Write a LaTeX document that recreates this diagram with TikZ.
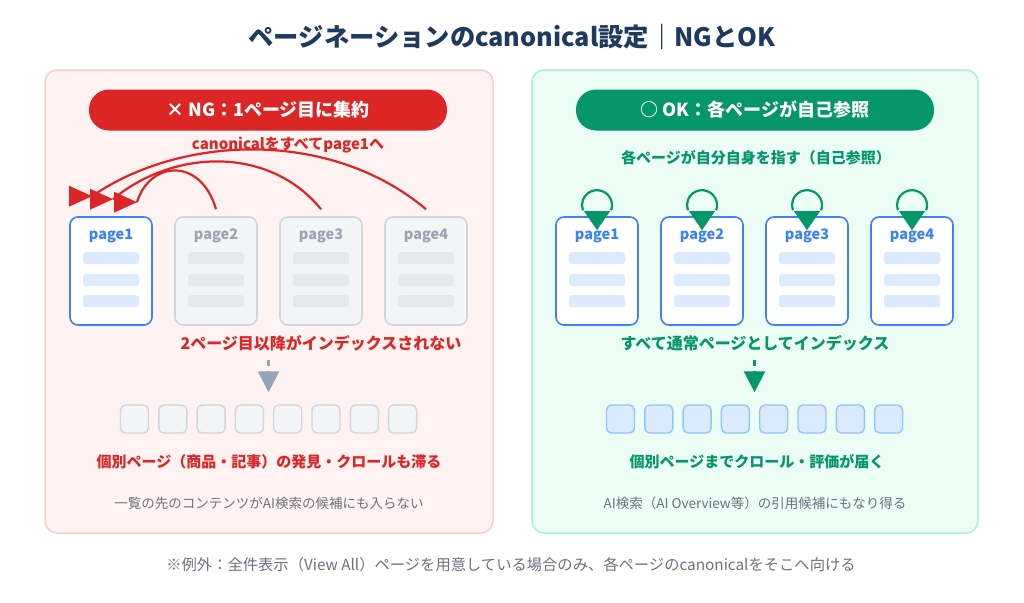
\documentclass[tikz,border=0pt]{standalone}
\usepackage{fontspec}
\setmainfont{Noto Sans CJK JP}
\usetikzlibrary{arrows.meta, calc}
\definecolor{ttlC}{HTML}{1E3A5F}
\definecolor{ngR}{HTML}{DC2626}
\definecolor{okG}{HTML}{059669}
\definecolor{noteC}{HTML}{6B7280}
\definecolor{ngBg}{HTML}{FEF2F2}
\definecolor{ngLn}{HTML}{FECACA}
\definecolor{okBg}{HTML}{ECFDF5}
\definecolor{okLn}{HTML}{A7F3D0}
\definecolor{pgB}{HTML}{3B82F6}
\definecolor{pgBar}{HTML}{DBEAFE}
\definecolor{grFill}{HTML}{F3F4F6}
\definecolor{grLn}{HTML}{D1D5DB}
\definecolor{grTxt}{HTML}{9CA3AF}
\definecolor{grBar}{HTML}{E5E7EB}
\definecolor{arrGr}{HTML}{94A3B8}
\definecolor{sqLn}{HTML}{93C5FD}
\newcommand{\fs}[1]{\fontsize{#1}{#1}\selectfont}
\tikzset{
  panel/.style={rounded corners=12pt, line width=1.5pt},
  pill/.style={rounded corners=20pt, minimum width=358pt, minimum height=41pt, inner sep=0pt,
    text=white, font=\bfseries\fs{18}},
  pagecard/.style={draw, rounded corners=8pt, line width=1.6pt, minimum width=82pt, minimum height=108pt},
  pagelbl/.style={inner sep=0pt, font=\bfseries\fs{14.5}},
  sqbox/.style={draw, rounded corners=5pt, line width=1.4pt, minimum size=28pt, inner sep=0pt},
  msg/.style={inner sep=0pt, font=\bfseries\fs{#1}},
  note/.style={inner sep=0pt, text=noteC, font=\fs{#1}},
  downarr/.style={line width=2.5pt, dash pattern=on 6pt off 5pt, -{Triangle[length=21pt, width=21pt]}}
}
\begin{document}
\begin{tikzpicture}[x=1pt, y=-1pt]
\useasboundingbox[fill=white] (0,0) rectangle (1024,602);
\node[msg=25.3, text=ttlC] (title) at (512,37) {ページネーションのcanonical設定｜NGとOK};
% two panels
\draw[panel, fill=ngBg, draw=ngLn] (45,70) rectangle (493,533);
\draw[panel, fill=okBg, draw=okLn] (532,70) rectangle (978,533);
\node[pill, fill=ngR] (nghd) at (268,110) {× NG：1ページ目に集約};
\node[pill, fill=okG] (okhd) at (755,110) {○ OK：各ページが自己参照};
% NG side: page cards, page1 only in blue
\foreach \i/\x/\fc/\lc/\tc/\bc in {1/111/white/pgB/pgB/pgBar, 2/216/grFill/grLn/grTxt/grBar,
    3/321/grFill/grLn/grTxt/grBar, 4/426/grFill/grLn/grTxt/grBar} {
  \node[pagecard, fill=\fc, draw=\lc] (l\i) at (\x,271) {};
  \node[pagelbl, text=\tc] at ($(l\i.north)+(0,20)$) {page\i};
  \foreach \b in {42,64,85}
    \fill[\bc, rounded corners=3pt] ($(l\i.north)+(-28,\b-6)$) rectangle ++(56,12);
}
% OK side: all cards in blue
\foreach \i/\x in {1/597, 2/702, 3/807, 4/912} {
  \node[pagecard, fill=white, draw=pgB] (r\i) at (\x,271) {};
  \node[pagelbl, text=pgB] at ($(r\i.north)+(0,20)$) {page\i};
  \foreach \b in {42,64,85}
    \fill[pgBar, rounded corners=3pt] ($(r\i.north)+(-28,\b-6)$) rectangle ++(56,12);
}
% canonical arrows to page1 (heads drawn pointing right)
\node[msg=15, text=ngR] (lcan) at (288,145) {canonicalをすべてpage1へ};
\coordinate (t2) at ($(l1.north)+(26,-14)$);
\coordinate (t3) at ($(l1.north)+(2,-17)$);
\coordinate (t4) at ($(l1.north)+(-19,-20)$);
\draw[ngR, line width=2.2pt] ([yshift=7pt]l2.north) .. controls +(-15,-52) and +(13,-42) .. (t2);
\draw[ngR, line width=2.2pt] ([yshift=7pt]l3.north) .. controls +(-52,-64) and +(60,-50) .. (t3);
\draw[ngR, line width=2.2pt] ([yshift=7pt]l4.north) .. controls +(-95,-80) and +(90,-62) .. (t4);
\foreach \t in {t4,t3,t2}
  \fill[ngR] (\t) -- ++(-23,-10.5) -- ++(0,21) -- cycle;
% self references
\node[msg=15, text=okG] (rself) at (756,158) {各ページが自分自身を指す（自己参照）};
\foreach \i in {1,...,4} {
  \draw[okG, line width=2.2pt] ($(r\i.north)+(0,-11)$) ++(20:15) arc[start angle=20, end angle=-200, radius=15];
  \fill[okG] ($(r\i.north)+(-13,-5)$) -- ++(26,0) -- ($(r\i.north)+(0,14)$) -- cycle;
}
% index result
\node[msg=16, text=ngR] (lidx) at (321,343) {2ページ目以降がインデックスされない};
\node[msg=16, text=okG] (ridx) at (755,343) {すべて通常ページとしてインデックス};
\foreach \i in {1,...,8} {
  \node[sqbox, fill=grFill, draw=grLn] (ls\i) at ({134.5+38.3*(\i-1)},419) {};
  \node[sqbox, fill=pgBar, draw=sqLn] (rs\i) at ({620.5+38.3*(\i-1)},419) {};
}
\coordinate (lgo) at ($(ls4.north)!0.5!(ls5.north)$);
\coordinate (rgo) at ($(rs4.north)!0.5!(rs5.north)$);
\draw[downarr, arrGr] ($(lgo)+(0,-44)$) -- ($(lgo)+(0,-12)$);
\draw[downarr, okG] ($(rgo)+(0,-44)$) -- ($(rgo)+(0,-12)$);
\node[msg=15, text=ngR] (lcrawl) at (269,462) {個別ページ（商品・記事）の発見・クロールも滞る};
\node[msg=15, text=okG] (rcrawl) at (757,462) {個別ページまでクロール・評価が届く};
\node[note=13.5] (lai) at (269,503) {一覧の先のコンテンツがAI検索の候補にも入らない};
\node[note=13.5] (rai) at (755,503) {AI検索（AI Overview等）の引用候補にもなり得る};
\node[note=15.3] (foot) at (511,565) {※例外：全件表示（View All）ページを用意している場合のみ、各ページのcanonicalをそこへ向ける};
\end{tikzpicture}
\end{document}
